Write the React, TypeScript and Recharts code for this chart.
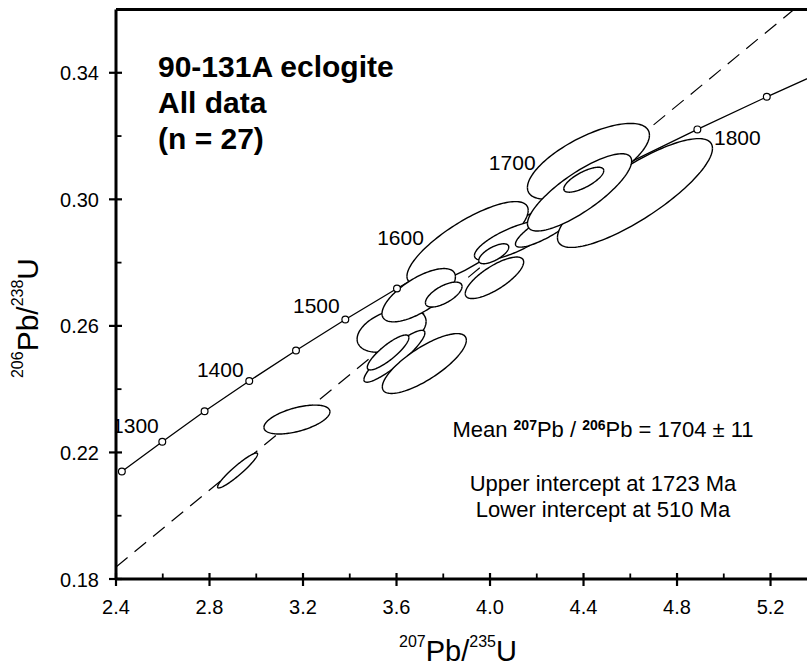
import React from 'react';
import { ComposedChart, XAxis, YAxis, Area, Scatter, ReferenceLine } from 'recharts';

const FONT = '"Liberation Sans", Arial, Helvetica, sans-serif';

// Concordia curve: ages (Ma) and ratio coordinates
const concordiaAges = [1250, 1300, 1350, 1400, 1450, 1500, 1550, 1600, 1650, 1700, 1750, 1800, 1850, 1900];
const concordiaX = [2.425, 2.598, 2.779, 2.970, 3.170, 3.381, 3.602, 3.834, 4.078, 4.335, 4.604, 4.887, 5.184, 5.496];
const concordiaY = [0.2140, 0.2234, 0.2330, 0.2426, 0.2522, 0.2620, 0.2718, 0.2817, 0.2917, 0.3018, 0.3119, 0.3221, 0.3324, 0.3428];
// visible age markers (open circles)
const markerAges = [1250, 1300, 1350, 1400, 1450, 1500, 1550, 1800, 1850];

// Age labels along concordia
const ageLabelText = ['1300', '1400', '1500', '1600', '1700', '1800'];
const ageLabelX = [2.483, 2.846, 3.257, 3.617, 4.095, 5.058];
const ageLabelY = [0.2285, 0.2463, 0.2663, 0.2878, 0.3115, 0.3194];

// Discordia (dashed) end points
const discordiaX = [2.4, 5.3];
const discordiaY = [0.1838, 0.36];

// Error ellipses (drawing order): centre, half-extent in x and y, correlation
const ellipseCx = [3.904, 3.579, 3.695, 3.802, 3.591, 3.719, 3.564, 2.920, 3.174, 4.096, 4.019, 4.016, 4.250, 4.294, 4.421, 4.620, 4.383, 4.401];
const ellipseCy = [0.2861, 0.2586, 0.2697, 0.2699, 0.2504, 0.2481, 0.2516, 0.2143, 0.2304, 0.2870, 0.2752, 0.2828, 0.2915, 0.2947, 0.3120, 0.3020, 0.3022, 0.3062];
const ellipseSx = [0.2593, 0.1476, 0.1570, 0.0783, 0.1305, 0.1797, 0.0890, 0.0856, 0.1412, 0.1626, 0.1249, 0.0642, 0.1412, 0.0856, 0.2610, 0.3316, 0.2229, 0.0856];
const ellipseSy = [0.01319, 0.00694, 0.00842, 0.00394, 0.00820, 0.00946, 0.00552, 0.00552, 0.00457, 0.00631, 0.00656, 0.00315, 0.00662, 0.00290, 0.01199, 0.01719, 0.01221, 0.00394];
const ellipseRho = [0.79, 0.40, 0.69, 0.65, 0.90, 0.78, 0.85, 0.94, 0.54, 0.75, 0.76, 0.67, 0.85, 0.50, 0.69, 0.82, 0.81, 0.73];

// Axis ticks
const xMajorTicks = [2.4, 2.8, 3.2, 3.6, 4.0, 4.4, 4.8, 5.2];
const xMinorTicks = [2.6, 3.0, 3.4, 3.8, 4.2, 4.6, 5.0];
const yMajorTicks = [0.18, 0.22, 0.26, 0.30, 0.34];
const yMinorTicks = [0.20, 0.24, 0.28, 0.32];

const concordiaData = concordiaX.map((x, i) => ({ x, y: concordiaY[i], age: concordiaAges[i] }));
const markerData = concordiaData.filter((d) => markerAges.includes(d.age));
const ageLabelData = ageLabelText.map((label, i) => ({ x: ageLabelX[i], y: ageLabelY[i], label }));
const discordiaData = discordiaX.map((x, i) => ({ x, y: discordiaY[i] }));

const STEPS = 72;
const ellipseData = ellipseCx.map((cx, k) => {
  const cy = ellipseCy[k];
  const sx = ellipseSx[k];
  const sy = ellipseSy[k];
  const rho = ellipseRho[k];
  const q = Math.sqrt(1 - rho * rho);
  const pts = [] as { x: number; r: [number, number] }[];
  for (let i = 0; i <= STEPS; i++) {
    const t = Math.PI - (Math.PI * i) / STEPS;
    const c = Math.cos(t);
    const s = Math.sin(t);
    pts.push({
      x: cx + sx * c,
      r: [cy + sy * (rho * c - q * s), cy + sy * (rho * c + q * s)],
    });
  }
  return pts;
});

const isIn = (list: number[], v: number) => list.some((t) => Math.abs(t - v) < 1e-9);

const XTick = (props: any) => {
  const { x, y, payload } = props;
  const v = payload.value as number;
  if (isIn(xMajorTicks, v)) {
    return (
      <g>
        <line x1={x} x2={x} y1={y - 6} y2={y + 7} stroke="#000" strokeWidth={2.2} />
        <text x={x} y={y + 28} textAnchor="middle" dominantBaseline="central" fontSize={20} fontFamily={FONT} fill="#000">
          {v.toFixed(1)}
        </text>
      </g>
    );
  }
  return <line x1={x} x2={x} y1={y - 5.5} y2={y} stroke="#000" strokeWidth={1.8} />;
};

const YTick = (props: any) => {
  const { x, y, payload } = props;
  const v = payload.value as number;
  if (isIn(yMajorTicks, v)) {
    return (
      <g>
        <line x1={x - 7} x2={x + 6} y1={y} y2={y} stroke="#000" strokeWidth={2.2} />
        <text x={x - 17} y={y + 0.5} textAnchor="end" dominantBaseline="central" fontSize={20} fontFamily={FONT} fill="#000">
          {v.toFixed(2)}
        </text>
      </g>
    );
  }
  return <line x1={x} x2={x + 5.5} y1={y} y2={y} stroke="#000" strokeWidth={1.8} />;
};

const Marker = (p: any) => <circle cx={p.cx} cy={p.cy} r={3.4} fill="#fff" stroke="#000" strokeWidth={1.2} />;
const AgeLabel = (p: any) => (
  <text x={p.cx} y={p.cy} textAnchor="middle" dominantBaseline="central" fontSize={21} fontFamily={FONT} fill="#000">
    {p.payload.label}
  </text>
);

export default function App() {
  return (
    <div style={{ position: 'absolute', left: 0, top: 0, width: 807, height: 669, overflow: 'hidden', background: '#fff' }}>
      <ComposedChart width={807} height={669} margin={{ top: 9.5, right: 0, bottom: 0, left: 0 }} style={{ fontFamily: FONT }}>
        <XAxis
          type="number"
          dataKey="x"
          domain={[2.4, 5.356]}
          allowDataOverflow
          ticks={[...xMajorTicks, ...xMinorTicks].sort((a, b) => a - b)}
          interval={0}
          tick={XTick}
          tickLine={false}
          tickSize={0}
          tickMargin={0}
          axisLine={{ stroke: '#000', strokeWidth: 3 }}
          height={90}
        />
        <YAxis
          type="number"
          domain={[0.18, 0.36]}
          allowDataOverflow
          ticks={[...yMajorTicks, ...yMinorTicks].sort((a, b) => a - b)}
          interval={0}
          tick={YTick}
          tickLine={false}
          tickSize={0}
          tickMargin={0}
          axisLine={{ stroke: '#000', strokeWidth: 3 }}
          width={116}
        />
        <ReferenceLine y={0.36} stroke="#000" strokeWidth={3} />
        <Area data={discordiaData} dataKey="y" type="linear" stroke="#000" strokeWidth={1.2} strokeDasharray="15 9" fill="none" isAnimationActive={false} dot={false} activeDot={false} />
        <Area data={concordiaData} dataKey="y" type="linear" stroke="#000" strokeWidth={1.3} fill="none" isAnimationActive={false} dot={false} activeDot={false} />
        {ellipseData.map((pts, k) => (
          <Area
            key={k}
            data={pts}
            dataKey="r"
            type="linear"
            stroke="#000"
            strokeWidth={1.4}
            fill="#fff"
            fillOpacity={1}
            isAnimationActive={false}
            dot={false}
            activeDot={false}
          />
        ))}
        <Scatter data={markerData} dataKey="y" shape={Marker} isAnimationActive={false} />
        <Scatter data={ageLabelData} dataKey="y" shape={AgeLabel} isAnimationActive={false} />
        <text x={158} y={77} fontSize={30} fontWeight="bold" fontFamily={FONT} fill="#000">90-131A eclogite</text>
        <text x={158} y={112.5} fontSize={30} fontWeight="bold" fontFamily={FONT} fill="#000">All data</text>
        <text x={158} y={149} fontSize={30} fontWeight="bold" fontFamily={FONT} fill="#000">(n = 27)</text>
        <text x={603} y={437} textAnchor="middle" fontSize={22} fontFamily={FONT} fill="#000">
          Mean <tspan fontSize={14} fontWeight="bold" dy={-7}>207</tspan>
          <tspan dy={7}>Pb / </tspan>
          <tspan fontSize={14} fontWeight="bold" dy={-7}>206</tspan>
          <tspan dy={7}>Pb = 1704 ± 11</tspan>
        </text>
        <text x={603} y={490.7} textAnchor="middle" fontSize={22} fontFamily={FONT} fill="#000">Upper intercept at 1723 Ma</text>
        <text x={603} y={517.3} textAnchor="middle" fontSize={22} fontFamily={FONT} fill="#000">Lower intercept at 510 Ma</text>
        <text x={458} y={661} textAnchor="middle" fontSize={29} fontFamily={FONT} fill="#000">
          <tspan fontSize={16} dy={-14}>207</tspan>
          <tspan dy={14}>Pb/</tspan>
          <tspan fontSize={16} dy={-14}>235</tspan>
          <tspan dy={14}>U</tspan>
        </text>
        <text x={38.3} y={318} transform="rotate(-90, 38.3, 318)" textAnchor="middle" fontSize={30} fontFamily={FONT} fill="#000">
          <tspan fontSize={16} dy={-15}>206</tspan>
          <tspan dy={15}>Pb/</tspan>
          <tspan fontSize={16} dy={-15}>238</tspan>
          <tspan dy={15}>U</tspan>
        </text>
      </ComposedChart>
    </div>
  );
}
